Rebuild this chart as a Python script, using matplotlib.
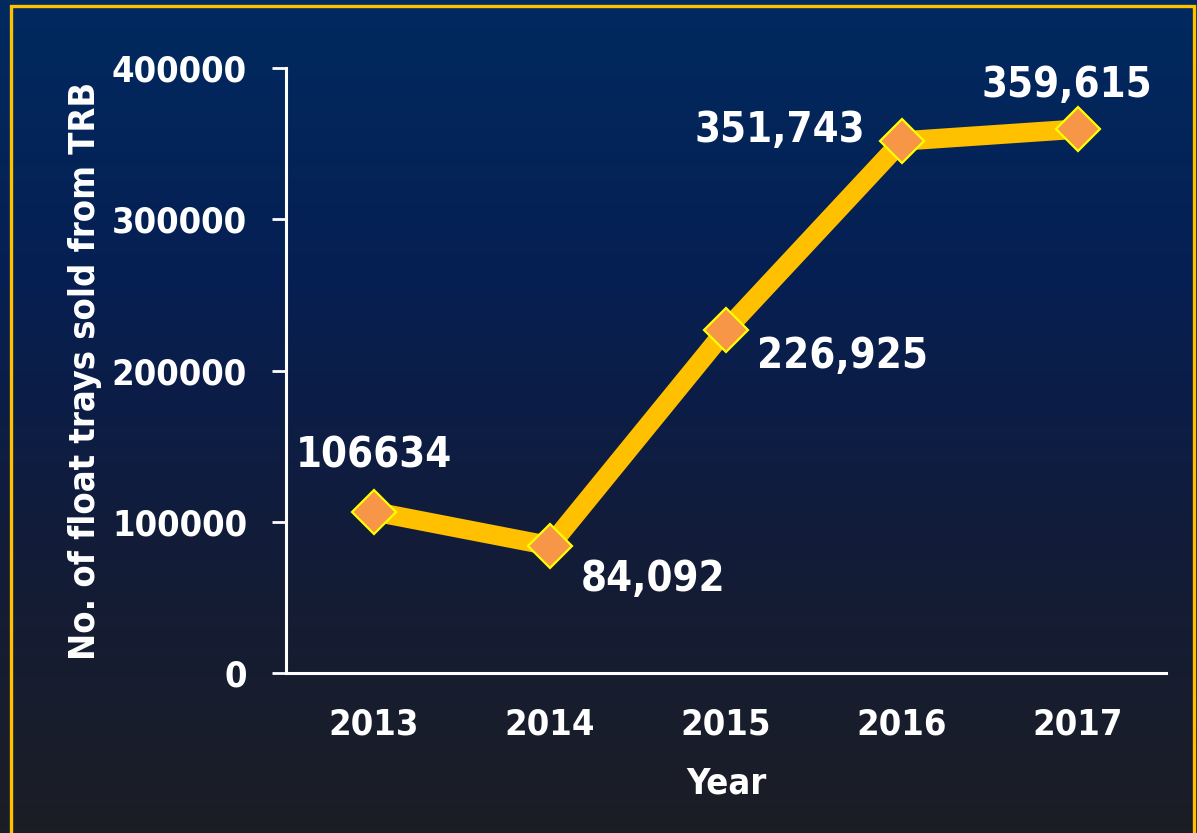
import numpy as np
import matplotlib
matplotlib.use("Agg")
import matplotlib.pyplot as plt
from matplotlib.colors import LinearSegmentedColormap
from matplotlib.patches import Rectangle
from matplotlib import font_manager

# Float trays sold per year
years = ["2013", "2014", "2015", "2016", "2017"]
trays = [106634, 84092, 226925, 351743, 359615]
labels = ["106634", "84,092", "226,925", "351,743", "359,615"]
yticks = [0, 100000, 200000, 300000, 400000]

# label offsets in pixels from each point
offsets = [(0, 56), (103, -33), (117, -26), (-122, 11), (-11, 44)]

plt.rcParams["font.family"] = ["DejaVu Sans"]
fp = font_manager.FontProperties(family="DejaVu Sans", weight="bold",
                                 stretch="condensed")

fig = plt.figure(figsize=(11.97, 8.33), dpi=100)

# background gradient, navy at the top fading to charcoal
bg = fig.add_axes([0, 0, 1, 1], zorder=-10)
grad = np.linspace(0, 1, 256).reshape(-1, 1)
cmap = LinearSegmentedColormap.from_list(
    "bg", ["#012a60", "#061f52", "#131c38", "#1c1e25"])
bg.imshow(grad, aspect="auto", cmap=cmap, extent=[0, 1, 0, 1])
bg.set_axis_off()

# gold frame
fig.patches.append(Rectangle((11 / 1197, -0.05), 1183 / 1197, 1.05 - 6 / 833,
                             transform=fig.transFigure, fill=False,
                             edgecolor="#ffc000", linewidth=2.4))

ax = fig.add_axes([286 / 1197, 160 / 833, 880 / 1197, 605 / 833])
ax.patch.set_alpha(0)

x = np.arange(len(years))
ax.plot(x, trays, color="#ffc000", linewidth=14, solid_capstyle="butt",
        marker="D", markersize=22, markerfacecolor="#f79646",
        markeredgecolor="#ffff00", markeredgewidth=1.6, zorder=3)

for xi, yi, lab, (dx, dy) in zip(x, trays, labels, offsets):
    t = ax.annotate(lab, (xi, yi), xytext=(dx, dy), textcoords="offset pixels",
                    ha="center", va="center", color="white",
                    fontproperties=fp)
    t.set_fontsize(30)

ax.set_xlim(-0.5, 4.5)
ax.set_ylim(0, 400000)
ax.set_xticks(x)
ax.set_xticklabels(years)
ax.set_yticks(yticks)
ax.set_yticklabels([str(v) for v in yticks])

for side in ["top", "right"]:
    ax.spines[side].set_visible(False)
for side in ["left", "bottom"]:
    ax.spines[side].set_color("white")
    ax.spines[side].set_linewidth(2.2)

ax.tick_params(axis="y", colors="white", length=10, width=2, pad=18)
ax.tick_params(axis="x", colors="white", length=0, pad=25)
for t in ax.get_xticklabels() + ax.get_yticklabels():
    t.set_fontproperties(fp)
    t.set_fontsize(26)

ax.set_xlabel("Year", color="white", fontproperties=fp, labelpad=18)
ax.xaxis.label.set_fontsize(26)
ax.set_ylabel("No. of float trays sold from TRB", color="white",
              fontproperties=fp, labelpad=7)
ax.yaxis.label.set_fontsize(26)

fig.savefig("out.png", dpi=100)
